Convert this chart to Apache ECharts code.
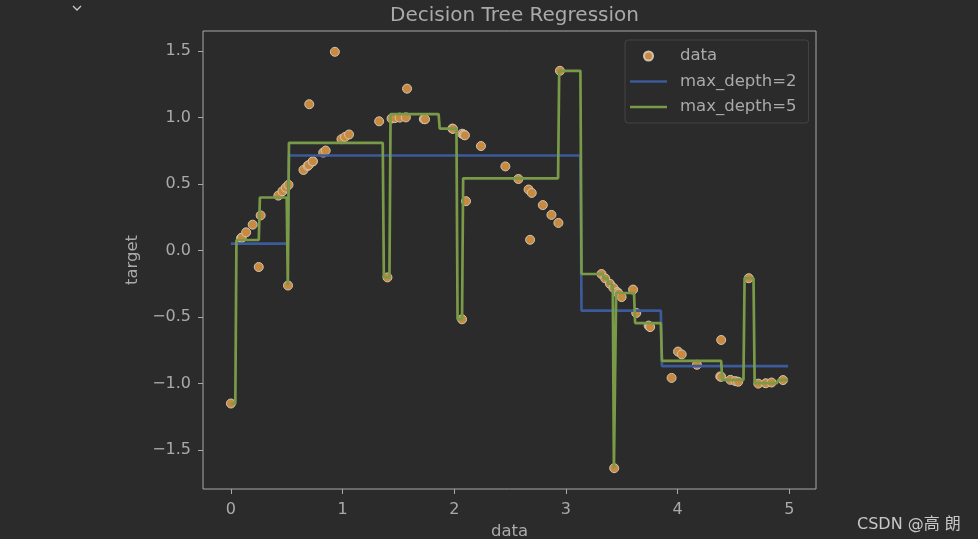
<!DOCTYPE html>
<html>
<head>
<meta charset="utf-8">
<script src="https://cdn.jsdelivr.net/npm/echarts@6/dist/echarts.min.js"></script>
<style>
html,body{margin:0;padding:0;background:#2b2b2b;}
#chart{width:978px;height:539px;}
</style>
</head>
<body>
<div id="chart"></div>
<script>
// Scatter data (sorted X, target y)
var dataX = [
0.0006, 0.0914, 0.0968, 0.1369, 0.1953, 0.2498, 0.2668, 0.4252, 0.4617, 0.4917,
0.5117, 0.5161, 0.6501, 0.6874, 0.6964, 0.7019, 0.7336, 0.7338, 0.8268, 0.8492,
0.9313, 0.9905, 1.0223, 1.0581, 1.3277, 1.4022, 1.4389, 1.4681, 1.5117, 1.5671,
1.5776, 1.7278, 1.7388, 1.9838, 1.9884, 2.0703, 2.0709, 2.0851, 2.0865, 2.0960,
2.1055, 2.2395, 2.4579, 2.5744, 2.6658, 2.6795, 2.6941, 2.7934, 2.8706, 2.9328,
2.9465, 3.3190, 3.3523, 3.3942, 3.4261, 3.4325, 3.4594, 3.4616, 3.4720, 3.4988,
3.6016, 3.6300, 3.7408, 3.7507, 3.7541, 3.9464, 4.0037, 4.0370, 4.1731, 4.3819,
4.3906, 4.3907, 4.4730, 4.5170, 4.5430, 4.6375, 4.7230, 4.7894, 4.8413, 4.9443
];
var dataY = [
-1.1493, 0.0913, 0.0966, 0.1365, 0.1941, -0.1240, 0.2636, 0.4125, 0.4455, 0.4721,
-0.2630, 0.4935, 0.6052, 0.6346, 0.6415, 1.0990, 0.6695, 0.6697, 0.7357, 0.7508,
1.4925, 0.8363, 0.8533, 0.8714, 0.9706, -0.2019, 0.9913, 0.9947, 0.9983, 1.0000,
1.2157, 0.9877, 0.9859, 0.9159, 0.9141, -0.5166, 0.8775, 0.8707, 0.8700, 0.8652,
0.3705, 0.7846, 0.6317, 0.5373, 0.4581, 0.0806, 0.4327, 0.3412, 0.2677, 0.2073,
1.3500, -0.1765, -0.2091, -0.2499, -0.2807, -1.6350, -0.3125, -0.3146, -0.3244, -0.3497,
-0.2936, -0.4692, -0.5640, -0.5721, -0.5749, -0.9570, -0.7592, -0.7805, -0.8581, -0.9459,
-0.6720, -0.9487, -0.9715, -0.9810, -0.9857, -0.2080, -0.9999, -0.9970, -0.9917, -0.9732
];

// max_depth=2 prediction (line vertices)
var depth2X = [0, 0.51, 0.52, 3.13, 3.14, 3.85, 3.86, 4.99];
var depth2Y = [0.0524, 0.0524, 0.7138, 0.7138, -0.4519, -0.4519, -0.8686, -0.8686];

// max_depth=5 prediction (line vertices)
var depth5X = [0, 0.04, 0.05, 0.25, 0.26, 0.50, 0.51, 0.52, 1.36, 1.37, 1.42, 1.43, 1.86, 1.87, 2.02, 2.03, 2.07, 2.08, 2.93, 2.94, 3.13, 3.14, 3.33, 3.34, 3.37, 3.38, 3.41, 3.42, 3.43, 3.44, 3.45, 3.61, 3.62, 3.85, 3.86, 4.39, 4.40, 4.59, 4.60, 4.68, 4.69, 4.89, 4.90, 4.99];
var depth5Y = [-1.1493, -1.1493, 0.0789, 0.0789, 0.3984, 0.3984, -0.2630, 0.8088, 0.8088, -0.2019, -0.2019, 1.0248, 1.0248, 0.9150, 0.9150, -0.5166, -0.5166, 0.5425, 0.5425, 1.3500, 1.3500, -0.1765, -0.1765, -0.2091, -0.2091, -0.2499, -0.2499, -0.2807, -1.6350, -1.6350, -0.3190, -0.3190, -0.5450, -0.5450, -0.8288, -0.8288, -0.9717, -0.9717, -0.2080, -0.2080, -0.9962, -0.9962, -0.9732, -0.9732];

var xTicks = [0, 1, 2, 3, 4, 5];
var yTicks = [-1.5, -1.0, -0.5, 0.0, 0.5, 1.0, 1.5];

function pairs(xs, ys) { return xs.map(function (x, i) { return [x, ys[i]]; }); }

var txt = '#aaaaaa';
var spine = '#a9a9a9';
var font = 'DejaVu Sans';
var lineIcon = 'path://M0,0L37,0L37,2.7L0,2.7Z';

var chart = echarts.init(document.getElementById('chart'), null, {renderer: 'canvas'});
chart.setOption({
  backgroundColor: '#2b2b2b',
  animation: false,
  title: {
    text: 'Decision Tree Regression',
    left: 509.5, top: 1, textAlign: 'center',
    textStyle: {color: txt, fontFamily: font, fontSize: 20, fontWeight: 'normal'}
  },
  legend: {
    orient: 'vertical',
    left: 625, top: 40,
    padding: [7, 12, 7, 5],
    itemGap: 7.5,
    itemWidth: 37, itemHeight: 9,
    symbolKeepAspect: true,
    backgroundColor: '#2b2b2b',
    borderColor: '#444444', borderWidth: 1, borderRadius: 3,
    textStyle: {color: txt, fontFamily: font, fontSize: 16.5, lineHeight: 18, padding: [0, 0, 0, 8]},
    data: [
      {name: 'data', icon: 'circle'},
      {name: 'max_depth=2', icon: lineIcon},
      {name: 'max_depth=5', icon: lineIcon}
    ]
  },
  grid: {
    left: 203, top: 31, width: 613, height: 458,
    outerBoundsMode: 'none', containLabel: false,
    show: true, borderColor: spine, borderWidth: 1, backgroundColor: 'transparent'
  },
  xAxis: {
    type: 'value', min: -0.2495, max: 5.2395,
    name: 'data', nameLocation: 'middle', nameGap: 34,
    nameTextStyle: {color: txt, fontFamily: font, fontSize: 16.5},
    splitLine: {show: false},
    axisLine: {show: false, onZero: false},
    axisTick: {show: true, inside: false, length: 5, lineStyle: {color: spine, width: 1}, customValues: xTicks},
    axisLabel: {color: txt, fontFamily: font, fontSize: 16, margin: 13, customValues: xTicks,
      formatter: function (v) { return String(Math.round(v)); }}
  },
  yAxis: {
    type: 'value', min: -1.7914, max: 1.6489,
    name: 'target', nameLocation: 'middle', nameGap: 62, nameRotate: 90,
    nameTextStyle: {color: txt, fontFamily: font, fontSize: 16.5},
    splitLine: {show: false},
    axisLine: {show: false, onZero: false},
    axisTick: {show: true, inside: false, length: 5, lineStyle: {color: spine, width: 1}, customValues: yTicks},
    axisLabel: {color: txt, fontFamily: font, fontSize: 16, margin: 12, customValues: yTicks,
      formatter: function (v) { var s = Math.abs(v).toFixed(1); return v < -1e-9 ? '\u2212' + s : s; }}
  },
  series: [
    {
      name: 'data', type: 'scatter', z: 2,
      symbol: 'circle', symbolSize: 9,
      itemStyle: {color: '#c98a3e', borderColor: '#cfc5b5', borderWidth: 1, opacity: 1},
      data: pairs(dataX, dataY)
    },
    {
      name: 'max_depth=2', type: 'line', z: 3, symbol: 'none',
      lineStyle: {color: '#3d5a9a', width: 2.7},
      itemStyle: {color: '#3d5a9a'},
      data: pairs(depth2X, depth2Y)
    },
    {
      name: 'max_depth=5', type: 'line', z: 4, symbol: 'none',
      lineStyle: {color: '#7a9a48', width: 2.7},
      itemStyle: {color: '#7a9a48'},
      data: pairs(depth5X, depth5Y)
    }
  ],
  graphic: [
    {type: 'polyline', shape: {points: [[73, 6], [77, 10], [81, 6]]}, style: {stroke: '#c8c8c8', lineWidth: 1.3, fill: null}},
    {type: 'text', left: 857, top: 517, style: {text: 'CSDN @高 朗', fill: '#c8c8c8', font: '16px "DejaVu Sans", "Noto Sans CJK SC"'}}
  ]
});
</script>
</body>
</html>
